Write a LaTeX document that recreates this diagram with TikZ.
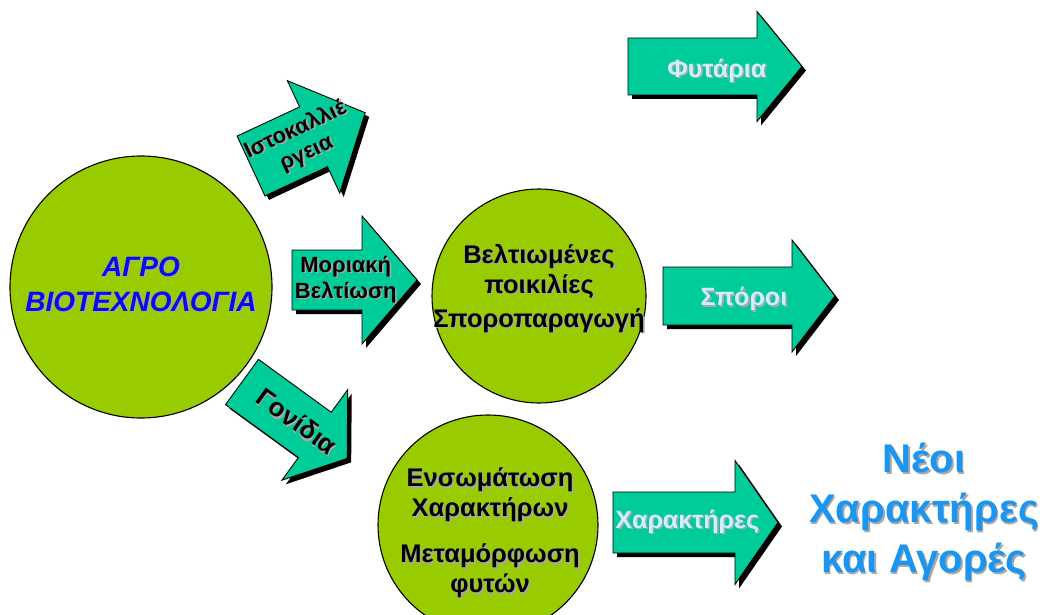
\documentclass[tikz,border=0pt]{standalone}
\usepackage{fontspec}
\setmainfont{Liberation Sans}

\definecolor{leaf}{HTML}{99CC00}
\definecolor{arrowteal}{HTML}{00CC99}
\definecolor{labelblue}{HTML}{CCF0FF}
\definecolor{titleblue}{HTML}{0A0AF0}
\definecolor{marketblue}{HTML}{1A96F2}
\definecolor{txtshadow}{HTML}{A8A8A8}

% text with a soft grey drop shadow: #1 colour, #2 text
\newcommand\shtext[2]{\makebox[0pt][l]{\hspace{1.6pt}\raisebox{-1.6pt}{\textcolor{txtshadow}{#2}}}\textcolor{#1}{#2}}

% block arrow: #1 name, #2 tail middle, #3 angle,
% #4 length/body half width/head half width/head length/label position,
% #5 label style, #6 label
\def\getdims#1/#2/#3/#4/#5\relax{\def\aL{#1}\def\aB{#2}\def\aH{#3}\def\aK{#4}\def\aP{#5}}
\newcommand\blockarrow[6]{%
  \getdims#4\relax
  \begin{scope}[shift={#2}]
    \fill[arrowshadow, shift={(4,4)}, rotate=#3]
      (0,-\aB) -- ({\aL-\aK},-\aB) -- ({\aL-\aK},-\aH) -- (\aL,0)
      -- ({\aL-\aK},\aH) -- ({\aL-\aK},\aB) -- (0,\aB) -- cycle;
    \draw[arrowbody, rotate=#3]
      (0,-\aB) -- ({\aL-\aK},-\aB) -- ({\aL-\aK},-\aH) -- (\aL,0)
      -- ({\aL-\aK},\aH) -- ({\aL-\aK},\aB) -- (0,\aB) -- cycle;
    \path[rotate=#3] ({\aP*\aL},0) node[#5, rotate=#3] (#1) {#6};
  \end{scope}}

\begin{document}
\begin{tikzpicture}[x=1pt, y=-1pt,
  hub/.style={circle, draw=black, line width=1.1pt, fill=leaf, inner sep=0pt},
  arrowbody/.style={draw=black, line width=0.9pt, fill=arrowteal, line join=miter},
  arrowshadow/.style={fill=black},
  lightlabel/.style={font=\bfseries\fontsize{25}{30}\selectfont, inner sep=0pt},
  darklabel/.style={font=\bfseries\fontsize{22}{26}\selectfont, align=center, inner sep=0pt},
  hubtext/.style={font=\bfseries\fontsize{25.5}{30}\selectfont, align=center, inner sep=0pt},
]
\useasboundingbox (0,0) rectangle (1043,615);

% the three circles
\node[hub, minimum size=262pt] (agro) at (141,287) {};
\node[hub, minimum size=214pt] (varieties) at (539,296) {};
\node[hub, minimum size=220pt] (transform) at (488,525) {};

\node[font=\bfseries\itshape\fontsize{28}{35}\selectfont, align=center, inner sep=0pt]
  (agrotext) at (141,285) {\shtext{titleblue}{ΑΓΡΟ}\\\shtext{titleblue}{ΒΙΟΤΕΧΝΟΛΟΓΙΑ}};

\node[hubtext] (varietiestext) at (539,289)
  {\shtext{black}{Βελτιωμένες}\\\shtext{black}{ποικιλίες}\\[4pt]\shtext{black}{Σποροπαραγωγή}};

\node[hubtext] (transformtext) at (490,534)
  {\shtext{black}{Ενσωμάτωση}\\\shtext{black}{Χαρακτήρων}\\[16pt]\shtext{black}{Μεταμόρφωση}\\\shtext{black}{φυτών}};

% arrows leaving the main circle
\blockarrow{tissue}{(251,166)}{25}{126/33/62/57/0.44}{darklabel}
  {\shtext{black}{Ιστοκαλλιέ}\\\shtext{black}{ργεια}}
\blockarrow{molecular}{(292,280)}{0}{125/30/64/55/0.43}{darklabel}
  {\shtext{black}{Μοριακή}\\\shtext{black}{Βελτίωση}}
\blockarrow{genes}{(242,382)}{-36}{130/28/56/40/0.52}{darklabel, font=\bfseries\fontsize{26}{30}\selectfont}
  {\shtext{black}{Γονίδια}}

% products
\blockarrow{plantlets}{(628,66.5)}{0}{174/28.5/55/45/0.51}{lightlabel, yshift=-5pt}{\shtext{labelblue}{Φυτάρια}}
\blockarrow{seeds}{(663,296)}{0}{172/29/56/43/0.47}{lightlabel, yshift=-4pt}{\shtext{labelblue}{Σπόροι}}
\blockarrow{traits}{(613,522.5)}{0}{165/30.5/62/43/0.45}{lightlabel}{\shtext{labelblue}{Χαρακτήρες}}

\node[font=\bfseries\fontsize{40}{50}\selectfont, align=center, inner sep=0pt] (markets) at (924,513)
  {\shtext{marketblue}{Νέοι}\\\shtext{marketblue}{Χαρακτήρες}\\\shtext{marketblue}{και Αγορές}};
\end{tikzpicture}
\end{document}
